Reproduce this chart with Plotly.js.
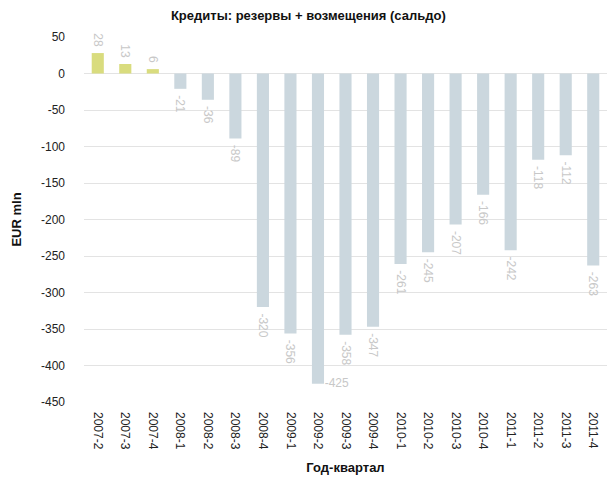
<!DOCTYPE html>
<html>
<head>
<meta charset="utf-8">
<script src="https://cdn.plot.ly/plotly-3.0.1.min.js"></script>
<style>
  body { margin: 0; }
  #chart { width: 607px; height: 479px; }
</style>
</head>
<body>
<div id="chart"></div>
<script>
var quarters = ["2007-2", "2007-3", "2007-4", "2008-1", "2008-2", "2008-3", "2008-4",
    "2009-1", "2009-2", "2009-3", "2009-4", "2010-1", "2010-2", "2010-3", "2010-4",
    "2011-1", "2011-2", "2011-3", "2011-4"];
var saldo = [28, 13, 6, -21, -36, -89, -320, -356, -425, -358, -347, -261, -245, -207, -166, -242, -118, -112, -263];
var yTicks = [50, 0, -50, -100, -150, -200, -250, -300, -350, -400, -450];

// positive quarters yellow, the rest grey-blue
var colors = saldo.map(function(v) { return v > 0 ? "#d9dc7e" : "#cbd7de"; });

// the deepest bar has no room below it, its label goes to the side, flat
var tooDeep = function(v) { return v < -400; };
var barText = saldo.map(function(v) {
    if (tooDeep(v)) return "";
    return v < 0 ? "\u00a0" + v : v + "\u00a0";
});
var sideX = [], sideY = [], sideText = [];
saldo.forEach(function(v, i) {
    if (tooDeep(v)) { sideX.push(quarters[i]); sideY.push(v); sideText.push("\u00a0\u00a0" + v); }
});

var data = [{
    type: "bar",
    x: quarters,
    y: saldo,
    marker: { color: colors },
    text: barText,
    textposition: "outside",
    textangle: 90,
    constraintext: "none",
    textfont: { family: "Arial", size: 12, color: "#c8c8c8" },
    cliponaxis: false,
    hoverinfo: "x+y"
}, {
    type: "scatter",
    mode: "text",
    x: sideX,
    y: sideY,
    text: sideText,
    textposition: "middle right",
    textfont: { family: "Arial", size: 12, color: "#c8c8c8" },
    cliponaxis: false,
    hoverinfo: "skip"
}];

var layout = {
    width: 607,
    height: 479,
    margin: { l: 84, r: 0, t: 37, b: 77 },
    paper_bgcolor: "#ffffff",
    plot_bgcolor: "#ffffff",
    bargap: 0.56,
    showlegend: false,
    font: { family: "Arial", size: 12, color: "#222" },
    title: {
        text: "Кредиты: резервы + возмещения (сальдо)",
        font: { family: "Arial", size: 13, color: "#111", weight: "bold" },
        x: 0.508, xanchor: "center", y: 0.967, yanchor: "middle"
    },
    xaxis: {
        type: "category",
        tickangle: 90,
        tickfont: { family: "Arial", size: 12, color: "#222" },
        ticklabelstandoff: 9,
        showgrid: false,
        zeroline: false,
        ticks: "",
        title: {
            text: "Год-квартал",
            font: { family: "Arial", size: 13, color: "#111", weight: "bold" },
            standoff: 14
        }
    },
    yaxis: {
        range: [-450, 50],
        tickmode: "array",
        tickvals: yTicks,
        ticktext: yTicks.map(String),
        gridcolor: "#e3e3e3",
        zeroline: false,
        ticks: "",
        ticklabelstandoff: 18,
        tickfont: { family: "Arial", size: 12, color: "#222" },
        title: {
            text: "EUR mln",
            font: { family: "Arial", size: 13, color: "#111", weight: "bold" },
            standoff: 16
        }
    }
};

Plotly.newPlot("chart", data, layout, { displayModeBar: false, staticPlot: true });
</script>
</body>
</html>
